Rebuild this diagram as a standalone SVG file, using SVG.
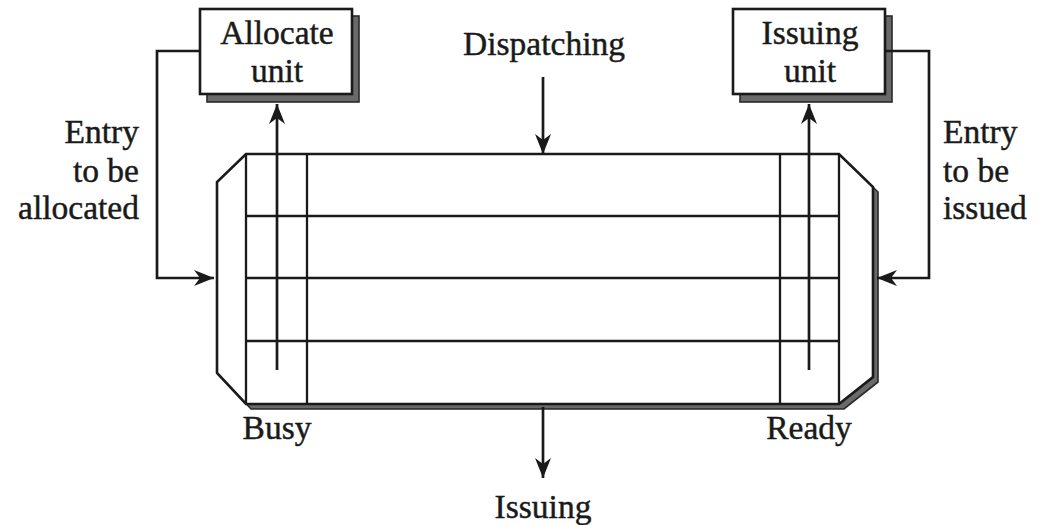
<svg xmlns="http://www.w3.org/2000/svg" width="1045" height="525" viewBox="0 0 1045 525">
  <style>
    text { font-family: "Liberation Serif", "Times New Roman", serif; font-size: 33.5px; fill: #1a1a1a; stroke: #1a1a1a; stroke-width: 0.45; }
    .mid { text-anchor: middle; }
    .end { text-anchor: end; }
    .line { fill: none; stroke: #1a1a1a; stroke-width: 2.7; }
    .grid { fill: none; stroke: #1a1a1a; stroke-width: 2.3; }
    .box { fill: #ffffff; stroke: #1a1a1a; stroke-width: 2.6; }
    .shadow { fill: #6a6a6a; stroke: #2a2a2a; stroke-width: 1.6; }
  </style>
  <defs>
    <marker id="arrow" viewBox="-22 -9 24 18" refX="0" refY="0" markerWidth="24" markerHeight="18" markerUnits="userSpaceOnUse" orient="auto">
      <path d="M0,0 L-20,-8 L-14,0 L-20,8 Z" fill="#1a1a1a"/>
    </marker>
  </defs>
  <rect width="1045" height="525" fill="#ffffff"/>

  <!-- reservation table -->
  <g id="table">
    <polygon class="shadow" points="251,159 844,159 878,192 878,382 844,409 251,409 222,378 222,187"/>
    <polygon class="box" points="246,154 839,154 873,187 873,377 839,404 246,404 217,373 217,182"/>
    <line class="grid" x1="246" y1="154" x2="246" y2="404"/>
    <line class="grid" x1="307" y1="154" x2="307" y2="404"/>
    <line class="grid" x1="780" y1="154" x2="780" y2="404"/>
    <line class="grid" x1="839" y1="154" x2="839" y2="404"/>
    <line class="grid" x1="246" y1="216" x2="839" y2="216"/>
    <line class="grid" x1="246" y1="278" x2="839" y2="278"/>
    <line class="grid" x1="246" y1="341" x2="839" y2="341"/>
    <text x="277" y="439" class="mid">Busy</text>
    <text x="809" y="439" class="mid">Ready</text>
  </g>

  <!-- allocate unit -->
  <g id="allocate-unit">
    <rect class="shadow" x="207" y="16" width="152" height="86"/>
    <rect class="box" x="200" y="9" width="152" height="85"/>
    <text x="277" y="44" class="mid">Allocate</text>
    <text x="277" y="82" class="mid">unit</text>
  </g>

  <!-- issuing unit -->
  <g id="issuing-unit">
    <rect class="shadow" x="740" y="16" width="152" height="86"/>
    <rect class="box" x="733" y="9" width="152" height="85"/>
    <text x="810" y="44" class="mid">Issuing</text>
    <text x="810" y="82" class="mid">unit</text>
  </g>

  <!-- connectors -->
  <g id="connectors">
    <line class="line" x1="277" y1="370" x2="277" y2="104" marker-end="url(#arrow)"/>
    <line class="line" x1="809" y1="370" x2="809" y2="104" marker-end="url(#arrow)"/>
    <line class="line" x1="543" y1="77" x2="543" y2="154" marker-end="url(#arrow)"/>
    <line class="line" x1="543" y1="407" x2="543" y2="478" marker-end="url(#arrow)"/>
    <polyline class="line" points="200,51 157,51 157,278 214,278" marker-end="url(#arrow)"/>
    <polyline class="line" points="885,51 929,51 929,278 877,278" marker-end="url(#arrow)"/>
  </g>

  <!-- labels -->
  <g id="labels">
    <text x="544" y="55" class="mid">Dispatching</text>
    <text x="543" y="518" class="mid">Issuing</text>
    <text x="139" y="143" class="end">Entry</text>
    <text x="139" y="182" class="end">to be</text>
    <text x="139" y="219" class="end">allocated</text>
    <text x="943" y="143">Entry</text>
    <text x="943" y="182">to be</text>
    <text x="943" y="219">issued</text>
  </g>
</svg>
